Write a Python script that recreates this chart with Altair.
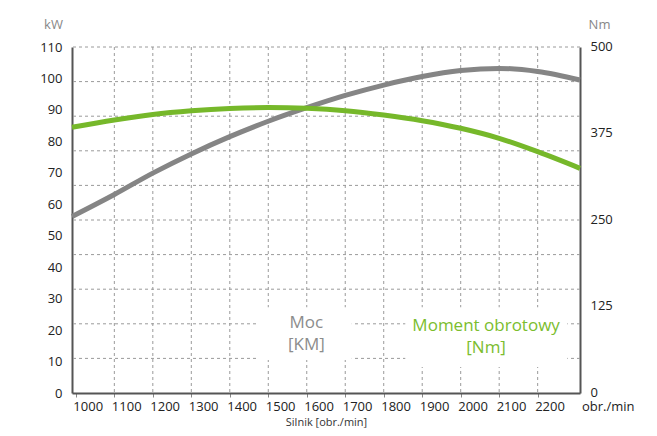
import altair as alt
import pandas as pd

# ---- data ----
rpm = [990, 1100, 1200, 1300, 1400, 1500, 1600, 1700, 1800, 1900, 2000, 2100, 2200, 2310]
power_kw = [56.1, 63.1, 69.9, 76.0, 81.5, 86.4, 90.7, 94.6, 97.9, 100.6, 102.5, 103.2, 102.2, 99.5]
torque_nm = [384, 394.5, 402.5, 407.8, 411.2, 412.5, 411.4, 408, 401.7, 393.5, 382.5, 368, 348.7, 324.7]

x_ticks = [1000, 1100, 1200, 1300, 1400, 1500, 1600, 1700, 1800, 1900, 2000, 2100, 2200]
x_grid = [1100, 1200, 1300, 1400, 1500, 1600, 1700, 1800, 1900, 2000, 2100, 2200]
kw_ticks = [0, 10, 20, 30, 40, 50, 60, 70, 80, 90, 100, 110]
nm_ticks = [0, 125, 250, 375, 500]
h_grid_kw = [11, 22, 33, 44, 55, 66, 77, 88, 99, 110]

labels = ["Moc", "[KM]", "Moment obrotowy", "[Nm]"]
label_rpm = [1599, 1599, 2066, 2066]
label_kw = [22.3, 15.3, 21.3, 14.3]
label_color = ["#8c8c8c", "#8c8c8c", "#7bbd2e", "#7bbd2e"]

box_rpm1 = [1471, 1856]
box_rpm2 = [1717, 2277]
box_kw1 = [10.5, 8.3]
box_kw2 = [27.3, 27.3]

FONT = "Open Sans"
X_DOM = [990, 2310]

x_scale = alt.Scale(domain=X_DOM, nice=False, zero=False)
kw_scale = alt.Scale(domain=[0, 110], nice=False)
nm_scale = alt.Scale(domain=[0, 500], nice=False)

x_axis = alt.Axis(values=x_ticks, format="d", labelAlign="left", labelOffset=-3,
                  labelFontSize=13, labelColor="#222", labelPadding=3,
                  domainColor="#555", domainWidth=2,
                  tickColor="#888", tickSize=4, tickWidth=1,
                  title="Silnik [obr./min]", titleFontSize=11, titleFontWeight="normal",
                  titleColor="#333", titleY=32, titleBaseline="alphabetic", grid=False)

kw_axis = alt.Axis(values=kw_ticks, format="d", labelFontSize=13, labelColor="#222",
                   labelPadding=10, ticks=False, domainColor="#555", domainWidth=2,
                   grid=False, title="kW", titleAngle=0, titleX=-19, titleY=-23,
                   titleAlign="center", titleBaseline="middle", titleColor="#888",
                   titleFontSize=13, titleFontWeight="normal")

nm_axis = alt.Axis(values=nm_ticks, format="d", orient="right", labelFontSize=13,
                   labelColor="#222", labelPadding=10, labelOffset=-1, ticks=False,
                   domainColor="#555", domainWidth=2, grid=False, title="Nm",
                   titleAngle=0, titleX=19, titleY=-23, titleAlign="center",
                   titleBaseline="middle", titleColor="#888", titleFontSize=13,
                   titleFontWeight="normal")

power_df = pd.DataFrame({"rpm": rpm, "kw": power_kw})
torque_df = pd.DataFrame({"rpm": rpm, "nm": torque_nm})
vgrid_df = pd.DataFrame({"rpm": x_grid})
hgrid_df = pd.DataFrame({"kw": h_grid_kw})
label_df = pd.DataFrame({"t": labels, "rpm": label_rpm, "kw": label_kw, "c": label_color})
box_df = pd.DataFrame({"r1": box_rpm1, "r2": box_rpm2, "k1": box_kw1, "k2": box_kw2})
unit_df = pd.DataFrame({"t": ["obr./min"], "rpm": [X_DOM[1]], "kw": [0]})

dash = [3, 3]

vgrid = alt.Chart(vgrid_df).mark_rule(color="#9a9a9a", strokeWidth=1, strokeDash=dash).encode(
    x=alt.X("rpm:Q", scale=x_scale, axis=x_axis))
hgrid = alt.Chart(hgrid_df).mark_rule(color="#9a9a9a", strokeWidth=1, strokeDash=dash).encode(
    y=alt.Y("kw:Q", scale=kw_scale, axis=kw_axis))
boxes = alt.Chart(box_df).mark_rect(color="white").encode(
    x=alt.X("r1:Q", scale=x_scale, axis=x_axis), x2="r2:Q",
    y=alt.Y("k1:Q", scale=kw_scale, axis=kw_axis), y2="k2:Q")
power = alt.Chart(power_df).mark_line(color="#858585", strokeWidth=5, interpolate="monotone").encode(
    x=alt.X("rpm:Q", scale=x_scale, axis=x_axis),
    y=alt.Y("kw:Q", scale=kw_scale, axis=kw_axis))
texts = alt.Chart(label_df).mark_text(fontSize=17, font=FONT, baseline="middle", align="center").encode(
    x=alt.X("rpm:Q", scale=x_scale, axis=x_axis),
    y=alt.Y("kw:Q", scale=kw_scale, axis=kw_axis),
    text="t:N", color=alt.Color("c:N", scale=None))
unit = alt.Chart(unit_df).mark_text(fontSize=13, font=FONT, align="left", baseline="middle",
                                    color="#222", dx=2, dy=14).encode(
    x=alt.X("rpm:Q", scale=x_scale, axis=x_axis),
    y=alt.Y("kw:Q", scale=kw_scale, axis=kw_axis),
    text="t:N")

left_layer = alt.layer(vgrid, hgrid, boxes, power, texts, unit)

torque = alt.Chart(torque_df).mark_line(color="#76b82a", strokeWidth=5, interpolate="monotone").encode(
    x=alt.X("rpm:Q", scale=x_scale, axis=x_axis),
    y=alt.Y("nm:Q", scale=nm_scale, axis=nm_axis))

chart = alt.layer(left_layer, torque).resolve_scale(y="independent").properties(
    width=508, height=346,
    autosize=alt.AutoSizeParams(type="none"),
    padding={"left": 64, "top": 39, "right": 69, "bottom": 35},
    background="white",
).configure(font=FONT).configure_view(stroke=None)

chart.save("out.html", embed_options={"renderer": "svg", "actions": False})
